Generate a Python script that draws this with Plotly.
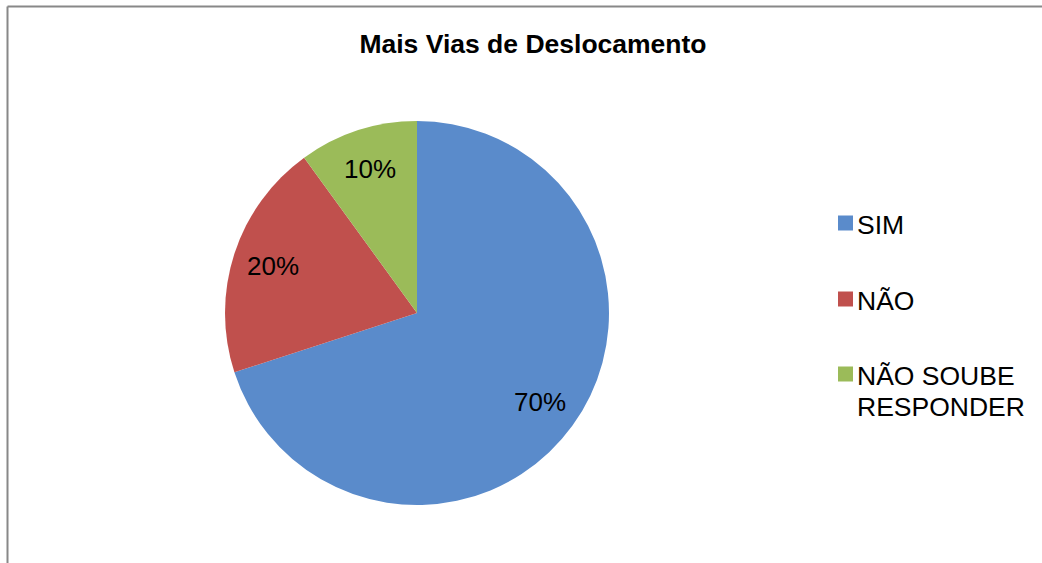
import math
import plotly.graph_objects as go

labels = ["SIM", "NÃO", "NÃO SOUBE<br>RESPONDER"]
values = [70, 20, 10]
colors = ["#5A8BCB", "#C0504D", "#9BBB59"]

W, H = 1042, 563
FONT = "Liberation Sans, Arial"

# pie geometry (pixels)
cx, cy, R = 417, 313, 192

fig = go.Figure()
fig.add_trace(go.Pie(
    labels=labels,
    values=values,
    sort=False,
    direction="clockwise",
    rotation=0,
    marker=dict(colors=colors, line=dict(width=0)),
    textinfo="none",
    domain=dict(x=[(cx - R) / W, (cx + R) / W], y=[1 - (cy + R) / H, 1 - (cy - R) / H]),
    showlegend=False,
    hoverinfo="label+percent",
))

# percentage labels placed like Excel, at ~79% of the radius
total = sum(values)
start = 0.0
for v in values:
    mid = (start + v / 2) / total * 2 * math.pi
    start += v
    px = cx + 0.79 * R * math.sin(mid)
    py = cy - 0.79 * R * math.cos(mid)
    fig.add_annotation(text=f"{round(100 * v / total)}%", xref="paper", yref="paper",
                       x=px / W, y=1 - py / H, xanchor="center", yanchor="middle",
                       showarrow=False, font=dict(family=FONT, size=26, color="black"))

# legend drawn by hand to match the wide spacing of the original
legend_y = [223, 299, 374]
for lab, col, y in zip(labels, colors, legend_y):
    fig.add_shape(type="rect", xref="paper", yref="paper",
                  x0=838 / W, x1=853 / W, y0=1 - (y + 7.5) / H, y1=1 - (y - 7.5) / H,
                  fillcolor=col, line=dict(width=0))
    for i, line in enumerate(lab.split("<br>")):
        fig.add_annotation(text=line, xref="paper", yref="paper",
                           x=855 / W, y=1 - (y + 2 + 30.5 * i) / H,
                           xanchor="left", yanchor="middle",
                           align="left", showarrow=False,
                           font=dict(family=FONT, size=26.5, color="black"))

# frame lines
fig.add_shape(type="line", xref="paper", yref="paper",
              x0=7.5 / W, x1=1.0, y0=1 - 6.5 / H, y1=1 - 6.5 / H,
              line=dict(color="#888888", width=2))
fig.add_shape(type="line", xref="paper", yref="paper",
              x0=7.5 / W, x1=7.5 / W, y0=0, y1=1 - 6.5 / H,
              line=dict(color="#888888", width=2))

fig.update_layout(
    width=W, height=H,
    margin=dict(l=0, r=0, t=0, b=0),
    paper_bgcolor="white",
    plot_bgcolor="white",
    title=dict(text="<b>Mais Vias de Deslocamento</b>", x=533 / W, xanchor="center",
               y=1 - 44 / H, yanchor="middle",
               font=dict(family=FONT, size=26.5, color="black")),
)

fig.write_html("out.html", config={"displayModeBar": False},
               post_script="document.body.style.margin='0';")
